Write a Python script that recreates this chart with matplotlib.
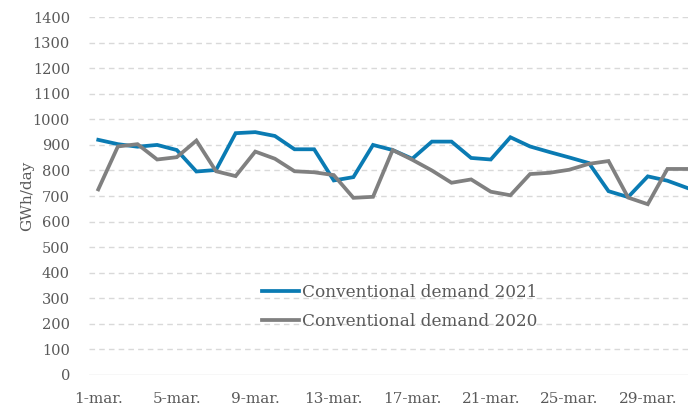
import matplotlib
matplotlib.use("Agg")
import matplotlib.pyplot as plt
import numpy as np

days = [f"{d}-mar." for d in range(1, 32)]
demand_2021 = [920, 903, 893, 900, 880, 796, 802, 946, 950, 935, 883, 883, 761, 774, 900,
               880, 846, 913, 913, 849, 843, 930, 894, 872, 851, 829, 719, 696, 777, 760, 732]
demand_2020 = [726, 894, 903, 843, 852, 917, 797, 778, 874, 846, 797, 793, 782, 693, 697,
               880, 842, 800, 752, 765, 717, 703, 786, 791, 803, 826, 837, 694, 668, 806, 806]
yticks = list(range(0, 1500, 100))
label_step = 4

plt.rcParams['font.family'] = ['DejaVu Serif']
text_color = '#595959'

fig = plt.figure(figsize=(6.88, 4.08), dpi=100)
ax = fig.add_axes([0.130, 0.081, 0.870, 0.877])

x = np.arange(len(days))
ax.plot(x, demand_2021, color='#0A7BB3', lw=2.7, label='Conventional demand 2021',
        solid_joinstyle='miter', zorder=3)
ax.plot(x, demand_2020, color='#808080', lw=2.7, label='Conventional demand 2020',
        solid_joinstyle='miter', zorder=3)

ax.set_ylim(0, 1400)
ax.set_xlim(-0.45, 30.05)
ax.set_yticks(yticks)
ax.set_xticks(x[::label_step])
ax.set_xticklabels(days[::label_step])

for y in yticks[1:]:
    ax.axhline(y, color='#D9D9D9', lw=1.0, ls=(0, (4, 3)), zorder=1)
ax.axhline(0, color='#D9D9D9', lw=1.0, zorder=1)

for s in ax.spines.values():
    s.set_visible(False)
ax.tick_params(axis='both', length=0, colors=text_color)
ax.tick_params(axis='y', pad=14, labelsize=10.5)
ax.tick_params(axis='x', pad=12, labelsize=11)
ax.set_ylabel('GWh/day', color=text_color, fontsize=11, labelpad=-1)

leg = ax.legend(loc='center left', bbox_to_anchor=(0.288, 0.19), frameon=False,
                fontsize=12.2, handlelength=2.2, handletextpad=0.15, borderpad=0,
                borderaxespad=0, labelspacing=0.75)
for t in leg.get_texts():
    t.set_color(text_color)

fig.savefig('out.png', dpi=100)
